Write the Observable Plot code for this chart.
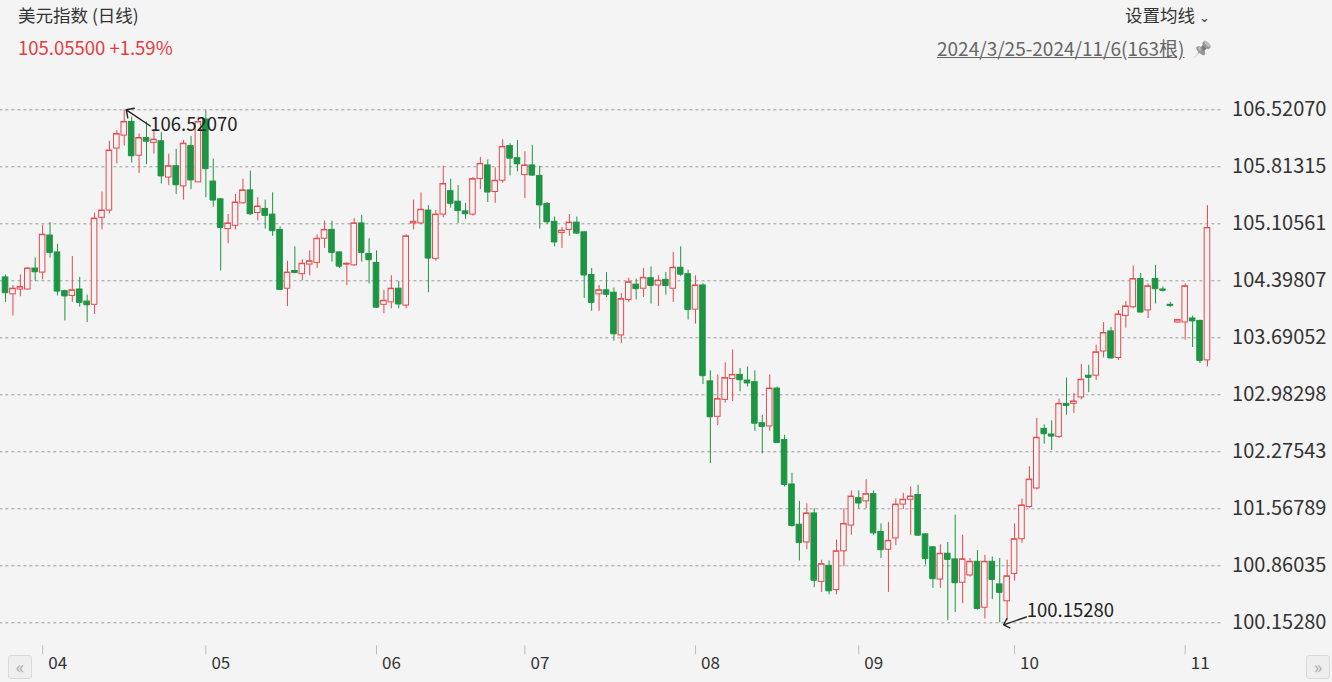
<!DOCTYPE html>
<html><head><meta charset="utf-8">
<script src="https://cdn.jsdelivr.net/npm/d3@7"></script>
<script src="https://cdn.jsdelivr.net/npm/@observablehq/plot@0.6"></script>
<style>
html,body{margin:0;padding:0;background:#f4f4f4;}
#wrap{position:relative;width:1332px;height:682px;overflow:hidden;font-family:"Noto Sans CJK SC","Noto Sans",sans-serif;}
#chart{position:absolute;left:0;top:0;}
.t{position:absolute;white-space:nowrap;line-height:20px;}
.btn{position:absolute;top:655px;width:22px;height:22px;border:1px solid #d8d8d8;border-radius:3px;background:#eee;color:#aaa;font-size:18px;line-height:20px;text-align:center;}
</style></head><body>
<div id="wrap">
  <div id="chart"></div>
  <div class="t" style="left:18px;top:5px;font-size:17.5px;color:#333">美元指数 (日线)</div>
  <div class="t" style="left:18px;top:37px;font-size:18.5px;color:#e23b40">105.05500 +1.59%</div>
  <div class="t" style="left:1125px;top:5px;font-size:17.5px;color:#333">设置均线<span style="font-size:13px;margin-left:4px">&#8964;</span></div>
  <div class="t" style="left:937px;top:38px;font-size:19px;color:#666;text-decoration:underline">2024/3/25-2024/11/6(163根)</div>
  <div class="t" style="left:1192px;top:38px;font-size:16px;filter:grayscale(1) brightness(1.25);opacity:.8">&#128204;</div>
  <div class="btn" style="left:8px">&laquo;</div>
  <div class="btn" style="left:1306px">&raquo;</div>
</div>
<script>
// ---- data (US Dollar Index daily, 2024/3/25 - 2024/11/6, 163 bars) ----
const startDate = "2024-03-25", endDate = "2024-11-06";
const open = [
104.44,104.23,104.29,104.29,104.55,104.50,104.96,104.75,104.27,104.21,
104.29,104.14,104.10,105.18,105.27,106.04,106.20,106.37,105.95,106.17,
106.11,106.13,105.68,105.82,105.57,106.07,105.62,106.40,105.63,105.41,
105.04,105.08,105.36,105.52,105.24,105.29,105.22,105.03,104.30,104.52,
104.48,104.60,104.62,104.92,105.03,104.75,104.60,104.59,105.11,104.73,
104.62,104.10,104.13,104.30,104.09,105.11,105.11,105.27,104.67,105.22,
105.51,105.38,105.26,105.22,105.66,105.83,105.50,105.64,106.07,105.92,
105.71,105.83,105.70,105.35,105.13,104.99,105.03,105.12,105.00,104.47,
104.23,104.28,104.25,103.72,104.16,104.35,104.30,104.43,104.34,104.41,
104.30,104.56,104.48,104.04,104.34,103.15,102.71,102.92,103.18,103.23,
103.16,103.14,102.63,102.59,103.06,102.42,101.87,101.37,101.15,101.51,
100.66,100.86,100.56,101.04,101.36,101.70,101.66,101.75,101.28,101.06,
101.20,101.62,101.68,101.74,101.25,101.09,100.69,101.01,100.94,100.65,
100.74,100.91,100.34,100.91,100.63,100.42,100.76,101.19,101.59,101.82,
102.56,102.49,102.46,102.87,102.87,102.95,103.22,103.22,103.52,103.77,
103.44,103.96,104.07,104.42,104.03,104.42,104.29,104.10,103.88,103.88,
103.93,103.90,103.41];
const high = [
104.47,104.34,104.47,104.56,104.68,105.09,105.12,104.85,104.28,104.70,
104.44,104.22,105.24,105.50,106.13,106.26,106.5207,106.43,106.22,106.37,
106.27,106.24,105.97,106.03,106.14,106.19,106.43,106.51,105.91,105.42,
105.22,105.47,105.66,105.76,105.43,105.40,105.49,105.07,104.64,104.82,
104.66,104.77,104.97,105.14,105.14,104.76,104.62,105.17,105.21,104.92,
104.77,104.28,104.46,104.39,104.97,105.40,105.49,105.33,105.27,105.82,
105.66,105.58,105.36,105.68,105.93,105.90,105.80,106.15,106.10,106.14,
106.00,106.08,105.82,105.37,105.19,105.06,105.22,105.19,105.01,104.55,
104.34,104.50,104.31,104.24,104.43,104.42,104.55,104.57,104.46,104.50,
104.75,104.82,104.53,104.46,104.36,103.28,103.23,103.38,103.54,103.31,
103.33,103.28,102.73,103.23,103.08,102.48,102.01,101.66,101.63,101.57,
100.93,100.92,101.18,101.57,101.79,101.79,101.93,101.79,101.38,101.40,
101.69,101.76,101.84,101.86,101.26,101.10,101.12,101.15,101.49,101.24,
100.95,101.05,100.99,100.97,100.95,100.93,101.38,101.69,102.09,102.69,
102.61,102.66,102.93,103.19,103.00,103.36,103.35,103.60,103.88,103.82,
104.03,104.14,104.58,104.49,104.36,104.59,104.32,104.13,103.92,104.36,
103.96,103.91,105.33];
const low = [
104.13,103.96,104.20,104.28,104.39,104.41,104.68,104.21,103.90,104.13,
104.07,103.88,103.98,105.03,105.23,105.85,106.07,105.86,105.73,105.84,
105.97,105.60,105.58,105.47,105.40,105.53,105.62,105.43,105.31,104.52,
104.86,105.03,105.35,105.21,105.14,105.04,104.95,104.28,104.08,104.49,
104.40,104.46,104.55,104.80,104.63,104.55,104.34,104.58,104.63,104.36,
104.06,103.99,104.05,104.05,104.05,105.03,105.10,104.25,104.64,105.18,
105.30,105.11,105.16,105.20,105.53,105.37,105.36,105.61,105.70,105.75,
105.42,105.70,105.04,105.10,104.82,104.80,104.95,104.98,104.18,104.02,
104.02,104.19,103.65,103.62,104.13,104.16,104.19,104.11,104.08,104.22,
104.13,104.45,103.91,103.86,103.11,102.13,102.60,102.88,102.90,103.02,
103.08,102.53,102.25,102.53,102.38,101.84,101.34,100.92,101.06,100.59,
100.53,100.50,100.50,100.85,101.24,101.57,101.57,101.24,100.95,100.53,
101.11,101.56,101.24,101.23,100.87,100.58,100.58,100.18,100.28,100.39,
100.72,100.31,100.20,100.44,100.1528,100.18,100.67,101.14,101.57,101.80,
102.37,102.29,102.44,102.73,102.75,102.92,103.01,103.16,103.44,103.43,
103.41,103.81,104.05,104.00,103.93,104.11,104.26,104.07,103.87,103.66,
103.57,103.37,103.33];
const close = [
104.25,104.30,104.32,104.55,104.51,104.97,104.75,104.27,104.21,104.28,
104.13,104.10,105.17,105.27,106.015,106.22,106.37,105.95,106.17,106.13,
106.15,105.70,105.82,105.59,106.10,105.65,106.37,105.79,105.40,105.06,
105.11,105.37,105.52,105.23,105.32,105.21,105.02,104.29,104.50,104.50,
104.61,104.64,104.92,105.03,104.75,104.58,104.61,105.11,104.75,104.66,
104.07,104.15,104.30,104.11,104.95,105.13,105.28,104.68,105.22,105.60,
105.36,105.27,105.23,105.66,105.85,105.50,105.64,106.06,105.92,105.85,
105.83,105.71,105.34,105.13,104.88,105.02,105.12,104.99,104.47,104.13,
104.28,104.23,103.74,104.17,104.38,104.30,104.435,104.34,104.40,104.34,
104.56,104.48,104.04,104.34,103.22,102.71,102.93,103.19,103.23,103.17,
103.13,102.63,102.59,103.06,102.39,101.87,101.36,101.15,101.51,100.68,
100.88,100.55,101.04,101.38,101.72,101.64,101.75,101.27,101.06,101.17,
101.62,101.68,101.72,101.24,100.95,100.70,101.01,100.94,100.65,100.94,
100.91,100.33,100.91,100.69,100.53,100.73,101.19,101.61,101.93,102.45,
102.50,102.47,102.87,102.85,102.90,103.17,103.20,103.51,103.75,103.44,
103.98,104.08,104.42,104.01,104.33,104.30,104.28,104.09,103.91,104.33,
103.90,103.41,105.055];
const yTicks = [106.52070,105.81315,105.10561,104.39807,103.69052,102.98298,102.27543,101.56789,100.86035,100.15280];
const monthTicks = ["2024-04-01","2024-05-01","2024-06-03","2024-07-01","2024-08-01","2024-09-02","2024-10-01","2024-11-01"];
const monthLabels = ["04","05","06","07","08","09","10","11"];

// trading days (weekdays) between start and end
const dates = [];
for (let d = new Date(startDate + "T00:00:00Z"); d <= new Date(endDate + "T00:00:00Z"); d.setUTCDate(d.getUTCDate() + 1)) {
  const w = d.getUTCDay();
  if (w !== 0 && w !== 6) dates.push(d.toISOString().slice(0, 10));
}
const bars = dates.map((date, i) => ({date, open: open[i], high: high[i], low: low[i], close: close[i]}));
const up = bars.filter(d => d.close >= d.open);
const down = bars.filter(d => d.close < d.open);
const months = monthTicks.map((date, i) => ({date, label: monthLabels[i]}));
const hiBar = bars.reduce((a, b) => b.high > a.high ? b : a);
const loBar = bars.reduce((a, b) => b.low < a.low ? b : a);

const RED = "#e5484d", GREEN = "#1d9544", BG = "#f4f4f4";

const chart = Plot.plot({
  width: 1332, height: 682,
  marginLeft: 0.4, marginRight: 120.4, marginTop: 109.3, marginBottom: 59.7,
  style: {background: "transparent", fontFamily: "'Noto Sans CJK SC','Noto Sans',sans-serif", overflow: "visible"},
  x: {type: "band", domain: dates, paddingInner: 0.25, paddingOuter: 0.25, round: false, axis: null},
  y: {domain: [yTicks[yTicks.length - 1], yTicks[0]], axis: null},
  marks: [
    Plot.ruleY(yTicks, {y: d => d, stroke: "#9a9a9a", strokeDasharray: "3,3", insetLeft: -1, insetRight: -10}),
    Plot.text(yTicks, {y: d => d, text: d => d.toFixed(5), frameAnchor: "right", textAnchor: "start", dx: 20, fontSize: 20, fill: "#333"}),
    // month ticks and labels
    Plot.ruleX(months, {x: "date", stroke: "#bbb", insetTop: 536, insetBottom: -32}),
    Plot.text(months, {x: "date", text: "label", frameAnchor: "bottom", dy: 46, dx: 15, fontSize: 17, fill: "#333"}),
    // wicks
    Plot.ruleX(up, {x: "date", y1: "low", y2: "high", stroke: RED, strokeWidth: 1}),
    Plot.ruleX(down, {x: "date", y1: "low", y2: "high", stroke: GREEN, strokeWidth: 1}),
    // bodies
    Plot.barY(up, {x: "date", y1: "open", y2: "close", fill: BG, stroke: RED, strokeWidth: 1}),
    Plot.barY(down, {x: "date", y1: "open", y2: "close", fill: GREEN, stroke: GREEN, strokeWidth: 1}),
    Plot.tickY(up, {x: "date", y: "close", stroke: RED}),
    Plot.tickY(down, {x: "date", y: "close", stroke: GREEN}),
    // max / min annotations
    Plot.vector([hiBar], {x: "date", y: "high", anchor: "end", rotate: 304, length: 29, dx: 2, stroke: "#222", strokeWidth: 1.4}),
    Plot.text([hiBar], {x: "date", y: "high", text: d => d.high.toFixed(5), dx: 26, dy: 15, textAnchor: "start", fontSize: 18.5, fill: "#222"}),
    Plot.vector([loBar], {x: "date", y: "low", anchor: "end", rotate: 251, length: 24, dx: 4, dy: 2, stroke: "#222", strokeWidth: 1.4}),
    Plot.text([loBar], {x: "date", y: "low", text: d => d.low.toFixed(5), dx: 27, dy: -12, textAnchor: "start", fontSize: 18.5, fill: "#222"})
  ]
});
document.getElementById("chart").appendChild(chart);
</script>
</body></html>
